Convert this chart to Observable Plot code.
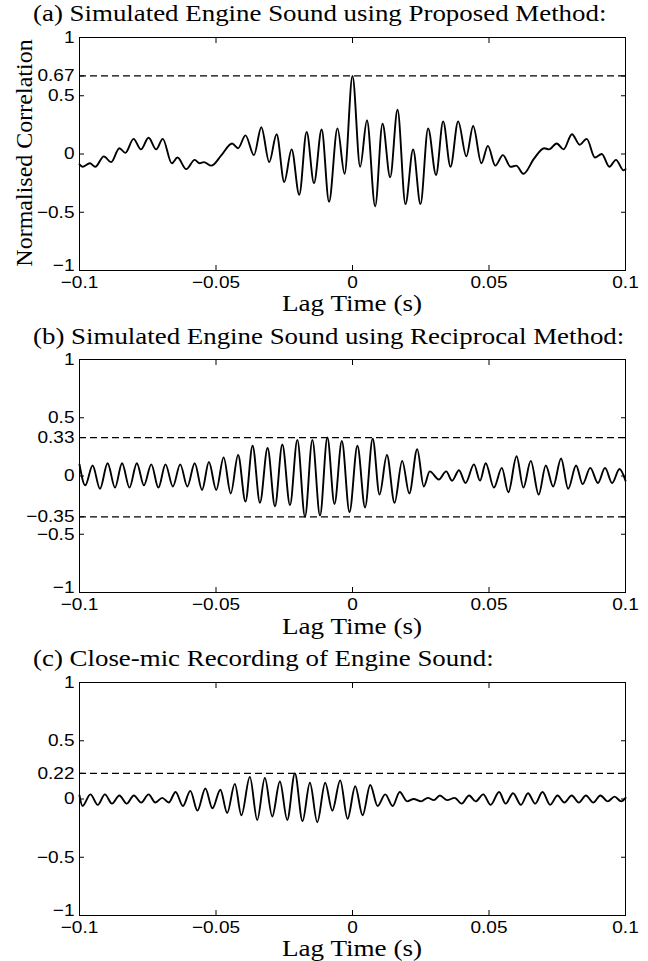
<!DOCTYPE html>
<html><head><meta charset="utf-8">
<script src="https://cdn.jsdelivr.net/npm/d3@7"></script>
<script src="https://cdn.jsdelivr.net/npm/@observablehq/plot@0.6"></script>
<style>
body{margin:0;background:#fff;}
#wrap{position:relative;width:648px;height:961px;overflow:hidden;background:#fff;}
.title{position:absolute;left:33px;font-family:"Liberation Serif","Times New Roman",serif;font-size:24px;line-height:27px;white-space:nowrap;color:#000;transform:scaleX(1.12);transform-origin:left center;}
.xlab{position:absolute;left:79px;width:546px;text-align:center;font-family:"Liberation Serif","Times New Roman",serif;font-size:24px;line-height:20px;color:#000;transform:scaleX(1.13);transform-origin:center center;}
.ylab{position:absolute;font-family:"Liberation Serif","Times New Roman",serif;font-size:24px;line-height:24px;white-space:nowrap;color:#000;transform-origin:center center;}
.panel{position:absolute;left:0;}
</style></head><body><div id="wrap"></div>
<script>
const titles = ["(a) Simulated Engine Sound using Proposed Method:",
                "(b) Simulated Engine Sound using Reciprocal Method:",
                "(c) Close-mic Recording of Engine Sound:"];
const xLabel = "Lag Time (s)";
const yLabel = "Normalised Correlation";
const xTicks = [-0.1, -0.05, 0, 0.05, 0.1];

const yTicksA = [-1, -0.5, 0, 0.5, 0.67, 1];
const yTicksB = [-1, -0.5, -0.35, 0, 0.33, 0.5, 1];
const yTicksC = [-1, -0.5, 0, 0.22, 0.5, 1];
const refA = [0.67];
const refB = [0.33, -0.35];
const refC = [0.22];

const lagA = [-0.1, -0.0989, -0.0962, -0.0942, -0.0911, -0.0884, -0.0854, -0.0832, -0.0802, -0.0775, -0.0747, -0.0719, -0.0695, -0.0662, -0.0641, -0.0609, -0.0578, -0.0560, -0.0544, -0.0517, -0.0480, -0.0441, -0.0419, -0.0392, -0.0361, -0.0334, -0.0305, -0.0278, -0.0250, -0.0223, -0.0195, -0.0168, -0.0141, -0.0113, -0.0086, -0.0055, -0.0029, 0, 0.0028, 0.0053, 0.0083, 0.0110, 0.0138, 0.0165, 0.0194, 0.0222, 0.0249, 0.0277, 0.0306, 0.0332, 0.0359, 0.0387, 0.0417, 0.0442, 0.0472, 0.0496, 0.0523, 0.0551, 0.0579, 0.0600, 0.0626, 0.0665, 0.0702, 0.0720, 0.0748, 0.0773, 0.0804, 0.0832, 0.0858, 0.0888, 0.0913, 0.0941, 0.0965, 0.0993, 0.1];
const corrA = [-0.09, -0.11, -0.08, -0.11, -0.02, -0.07, 0.05, 0.01, 0.13, 0.04, 0.14, 0.04, 0.13, -0.08, -0.03, -0.13, -0.05, -0.08, -0.07, -0.10, -0.01, 0.09, 0.05, 0.16, -0.01, 0.23, -0.07, 0.17, -0.24, 0.04, -0.35, 0.19, -0.25, 0.21, -0.41, 0.22, -0.17, 0.67, -0.11, 0.29, -0.45, 0.26, -0.20, 0.38, -0.43, 0.04, -0.43, 0.22, -0.18, 0.28, -0.11, 0.28, -0.02, 0.24, -0.08, 0.07, -0.10, -0.01, -0.11, -0.10, -0.17, -0.04, 0.05, 0.04, 0.09, 0.04, 0.17, 0.08, 0.13, -0.03, 0.0, -0.11, -0.05, -0.14, -0.13];

const lagB = [-0.1, -0.0979, -0.0952, -0.0925, -0.0897, -0.0870, -0.0844, -0.0817, -0.0790, -0.0764, -0.0737, -0.0711, -0.0685, -0.0658, -0.0631, -0.0605, -0.0578, -0.0551, -0.0526, -0.0499, -0.0472, -0.0446, -0.0419, -0.0392, -0.0366, -0.0339, -0.0311, -0.0284, -0.0257, -0.0229, -0.0202, -0.0174, -0.0147, -0.0119, -0.0092, -0.0066, -0.0039, -0.0011, 0.0018, 0.0046, 0.0074, 0.0099, 0.0126, 0.0154, 0.0182, 0.0208, 0.0237, 0.0261, 0.0283, 0.0316, 0.0343, 0.0365, 0.0390, 0.0414, 0.0445, 0.0467, 0.0488, 0.0518, 0.0547, 0.0571, 0.0601, 0.0626, 0.0653, 0.0682, 0.0708, 0.0735, 0.0764, 0.0790, 0.0819, 0.0843, 0.0871, 0.0899, 0.0925, 0.0951, 0.0978, 0.1];
const corrB = [0.10, -0.08, 0.09, -0.11, 0.11, -0.10, 0.11, -0.10, 0.11, -0.08, 0.10, -0.10, 0.10, -0.09, 0.10, -0.09, 0.11, -0.12, 0.12, -0.12, 0.16, -0.15, 0.18, -0.22, 0.26, -0.23, 0.24, -0.26, 0.27, -0.25, 0.31, -0.35, 0.31, -0.34, 0.33, -0.24, 0.30, -0.31, 0.26, -0.27, 0.32, -0.16, 0.18, -0.23, 0.13, -0.15, 0.23, -0.09, 0.04, -0.03, 0.04, -0.04, 0.05, -0.06, 0.10, -0.04, 0.11, -0.10, 0.07, -0.14, 0.17, -0.10, 0.13, -0.16, 0.09, -0.09, 0.15, -0.11, 0.09, -0.07, 0.07, -0.06, 0.07, -0.06, 0.06, -0.04];

const lagC = [-0.1, -0.0989, -0.0960, -0.0933, -0.0907, -0.0881, -0.0854, -0.0827, -0.0801, -0.0774, -0.0747, -0.0722, -0.0697, -0.0673, -0.0648, -0.0621, -0.0594, -0.0568, -0.0539, -0.0513, -0.0484, -0.0459, -0.0431, -0.0407, -0.0376, -0.0349, -0.0321, -0.0294, -0.0266, -0.0239, -0.0211, -0.0183, -0.0156, -0.0129, -0.0100, -0.0074, -0.0045, -0.0018, 0.0010, 0.0037, 0.0065, 0.0092, 0.0120, 0.0147, 0.0173, 0.0200, 0.0224, 0.0251, 0.0276, 0.0298, 0.0320, 0.0347, 0.0374, 0.0400, 0.0427, 0.0451, 0.0479, 0.0506, 0.0537, 0.0561, 0.0588, 0.0617, 0.0643, 0.0669, 0.0696, 0.0724, 0.0751, 0.0776, 0.0803, 0.0829, 0.0855, 0.0882, 0.0908, 0.0935, 0.0960, 0.0984, 0.1];
const corrC = [0.03, -0.06, 0.04, -0.05, 0.04, -0.04, 0.03, -0.04, 0.03, -0.03, 0.04, -0.03, 0.01, -0.03, 0.06, -0.06, 0.07, -0.10, 0.09, -0.08, 0.08, -0.12, 0.13, -0.14, 0.19, -0.18, 0.18, -0.15, 0.15, -0.18, 0.22, -0.19, 0.14, -0.20, 0.14, -0.10, 0.16, -0.17, 0.11, -0.14, 0.12, -0.06, 0.04, -0.06, 0.06, -0.02, 0.00, -0.02, 0.01, -0.01, 0.03, -0.01, 0.01, -0.04, 0.03, -0.02, 0.04, -0.05, 0.06, -0.04, 0.05, -0.05, 0.05, -0.04, 0.06, -0.05, 0.03, -0.03, 0.03, -0.03, 0.03, -0.03, 0.03, -0.02, 0.02, -0.02, 0.01];

const fmt = d => (d < 0 ? "\u2212" : "") + String(Math.abs(d));
const blank = () => "";

function makePanel(lag, corr, yTicks, refs) {
  const data = lag.map((t, i) => ({t, r: corr[i]}));
  const svg = Plot.plot({
    width: 648, height: 300,
    marginLeft: 79, marginRight: 23, marginTop: 10, marginBottom: 57,
    style: {fontFamily: "'Liberation Sans', Arial, sans-serif", fontSize: "17px", color: "black", background: "transparent", overflow: "visible"},
    x: {domain: [-0.1, 0.1]},
    y: {domain: [-1, 1]},
    marks: [
      Plot.ruleY(refs, {stroke: "black", strokeWidth: 1.3, strokeDasharray: "7,4"}),
      Plot.line(data, {x: "t", y: "r", curve: "monotone-x", stroke: "black", strokeWidth: 1.9}),
      Plot.frame({stroke: "black", strokeWidth: 1}),
      Plot.axisX(xTicks, {anchor: "bottom", tickSize: -5, tickPadding: 10, tickFormat: fmt, label: null}),
      Plot.axisX(xTicks, {anchor: "top", tickSize: -5, tickFormat: blank, label: null}),
      Plot.axisY(yTicks, {anchor: "left", tickSize: -5, tickPadding: 10, tickFormat: fmt, label: null}),
      Plot.axisY(yTicks, {anchor: "right", tickSize: -5, tickFormat: blank, label: null})
    ]
  });
  // the reference glyphs are slightly wide: stretch tick labels horizontally about their anchor;
  // the bottom y label sits raised above the corner as in the reference
  d3.select(svg).selectAll('g[aria-label$="tick label"] text').each(function() {
    const tr = this.getAttribute("transform") || "";
    const raise = this.parentNode.getAttribute("aria-label").startsWith("y") && this.textContent === fmt(-1) ? " translate(0,-5)" : "";
    this.setAttribute("transform", tr + raise + " scale(1.12,1)");
  });
  return svg;
}

const wrap = document.getElementById("wrap");
const panels = [
  [lagA, corrA, yTicksA, refA],
  [lagB, corrB, yTicksB, refB],
  [lagC, corrC, yTicksC, refC]
];
const offsets = [0, 322.7, 645.4];

panels.forEach((p, i) => {
  const top = offsets[i];
  const t = document.createElement("div");
  t.className = "title";
  t.style.top = (top + 0) + "px";
  t.textContent = titles[i];
  wrap.appendChild(t);

  const holder = document.createElement("div");
  holder.className = "panel";
  holder.style.top = (top + 26.7) + "px";
  holder.appendChild(makePanel(...p));
  wrap.appendChild(holder);

  const xl = document.createElement("div");
  xl.className = "xlab";
  xl.style.top = (top + 293) + "px";
  xl.textContent = xLabel;
  wrap.appendChild(xl);
});

const yl = document.createElement("div");
yl.className = "ylab";
yl.textContent = yLabel;
wrap.appendChild(yl);
const w = yl.offsetWidth;
yl.style.left = (23 - w / 2) + "px";
yl.style.top = (153 - 12) + "px";
yl.style.transform = "rotate(-90deg)";
</script></body></html>
